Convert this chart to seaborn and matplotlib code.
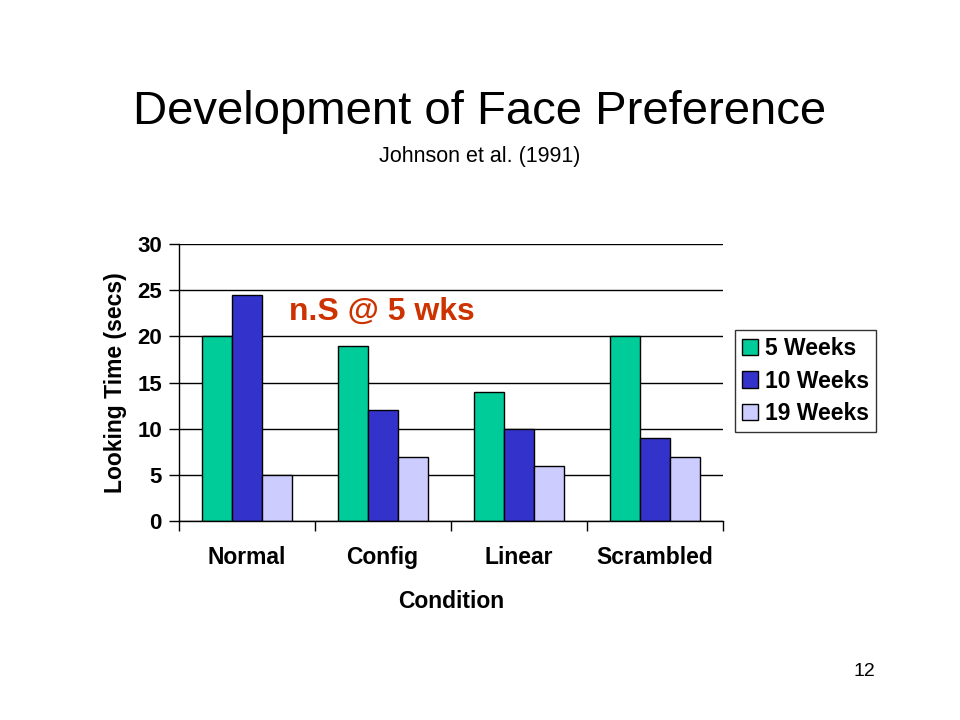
import pandas as pd
import numpy as np
import matplotlib
matplotlib.use("Agg")
import matplotlib.pyplot as plt
import seaborn as sns

conditions = ["Normal", "Config", "Linear", "Scrambled"]
ages = ["5 Weeks", "10 Weeks", "19 Weeks"]
wk5 = [20, 19, 14, 20]
wk10 = [24.5, 12, 10, 9]
wk19 = [5, 7, 6, 7]
colors = ["#00CC99", "#3333CC", "#CCCCFF"]

df = pd.DataFrame({
    "Condition": conditions * 3,
    "Age": [a for a in ages for _ in conditions],
    "Time": wk5 + wk10 + wk19,
})

sns.set_style("white")
plt.rcParams["font.family"] = ["Liberation Sans", "DejaVu Sans"]
plt.rcParams["text.color"] = "black"
plt.rcParams["axes.labelcolor"] = "black"
plt.rcParams["xtick.color"] = "black"
plt.rcParams["ytick.color"] = "black"
plt.rcParams["xtick.bottom"] = True
plt.rcParams["ytick.left"] = True

fig = plt.figure(figsize=(9.6, 7.2), dpi=100)
ax = fig.add_axes([0.186, 0.276, 0.567, 0.385])

sns.barplot(data=df, x="Condition", y="Time", hue="Age", palette=colors,
            width=0.66, edgecolor="black", linewidth=1, saturation=1, ax=ax)

ax.set_ylim(0, 30)
ax.set_xlim(-0.5, 3.5)
ax.set_yticks(range(0, 31, 5))
ax.yaxis.grid(True, color="black", linewidth=1)
ax.set_axisbelow(True)
for s in ["top", "right"]:
    ax.spines[s].set_visible(False)
ax.spines["left"].set_color("black")
ax.spines["bottom"].set_color("black")
ax.spines["left"].set_linewidth(1)
ax.spines["bottom"].set_linewidth(1)

# category boundary ticks on x, labels centred
ax.set_xticks([-0.5, 0.5, 1.5, 2.5, 3.5])
ax.set_xticklabels([])
ax.set_xticks(range(4), minor=True)
ax.set_xticklabels(conditions, minor=True, fontsize=16.5, fontweight="bold")
ax.tick_params(axis="x", which="major", direction="out", length=7, color="black",
               width=1, bottom=True)
ax.tick_params(axis="x", which="minor", length=0, pad=18)
ax.tick_params(axis="y", direction="out", length=7, color="black", width=1,
               labelsize=16, pad=5, left=True)
for t in ax.get_yticklabels():
    t.set_fontweight("bold")

ax.set_xlabel("Condition", fontsize=16.5, fontweight="bold", labelpad=15)
ax.set_ylabel("Looking Time (secs)", fontsize=16.5, fontweight="bold", labelpad=7)

ax.text(0.31, 22.7, "n.S @ 5 wks", fontsize=23, fontweight="bold",
        color="#CC3300", ha="left", va="center")

leg = ax.legend(loc="upper left", bbox_to_anchor=(1.022, 0.69), frameon=True,
                fancybox=False, edgecolor="black", fontsize=16.5, handlelength=0.7,
                handleheight=0.7, handletextpad=0.3, borderpad=0.3,
                labelspacing=0.42, borderaxespad=0)
leg.get_frame().set_linewidth(1)
for t in leg.get_texts():
    t.set_fontweight("bold")

fig.text(0.5, 0.845, "Development of Face Preference", fontsize=34,
         ha="center", va="center")
fig.text(0.5, 0.782, "Johnson et al. (1991)", fontsize=15.5,
         ha="center", va="center")
fig.text(0.9, 0.067, "12", fontsize=14, ha="center", va="center")

fig.savefig("out.png", dpi=100)
